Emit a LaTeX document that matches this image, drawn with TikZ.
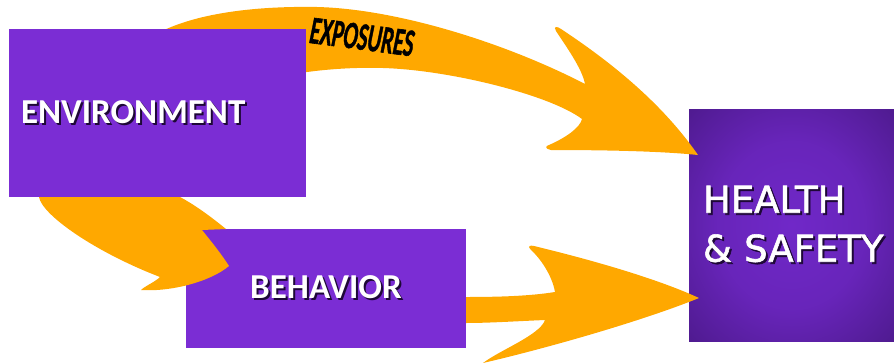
\documentclass[tikz,border=0pt]{standalone}
\usepackage{fontspec}
\usepackage{graphicx}
\usetikzlibrary{positioning}

\newfontfamily\carlito{Carlito}
\newfontfamily\heavycarlito{Carlito}[FakeBold=1.5]
\newfontfamily\dejavu{DejaVu Sans}[FakeBold=1.5]

\definecolor{boxpurple}{RGB}{123,45,212}
\definecolor{hsin}{RGB}{112,40,200}
\definecolor{hsout}{RGB}{58,18,108}
\definecolor{arrowgold}{RGB}{255,168,0}
\definecolor{txtshade}{RGB}{30,8,55}

\newcommand{\shtxt}[1]{\leavevmode\rlap{\hspace{2pt}\raisebox{-2pt}{\textcolor{txtshade}{#1}}}#1}
\pgfdeclareradialshading{hsglow}{\pgfpoint{0bp}{0bp}}{color(0bp)=(hsin); color(18bp)=(hsin!85!hsout); color(50bp)=(hsout)}

\begin{document}
\begin{tikzpicture}[x=1pt,y=-1pt,every node/.style={shape=rectangle,inner sep=0pt,outer sep=0pt},
    box/.style={fill=boxpurple,text=white},
    flow/.style={fill=arrowgold}]
    \useasboundingbox (0,0) rectangle (894,362);

	% create boxes
    \node (hs) [box, shade, shading=hsglow, anchor=north west, minimum width=205pt, minimum height=232pt, text width=177pt, align=left, font=\dejavu\fontsize{37}{49}\selectfont] at (689,109) {\shtxt{HEALTH}\\\shtxt{\&~SAFETY}};
	\node (beh) [box, below=120pt of hs.north west, xshift=-503pt, anchor=north west, minimum width=280pt, minimum height=119pt, font=\carlito\fontsize{35}{40}\selectfont\bfseries] {\shtxt{BEHAVIOR}};

	% arrows between the boxes
    \fill[flow] (200,70) -- (160,32)
        .. controls (200,12) and (260,6) .. (317,7)
        .. controls (400,9) and (510,45) .. (585,84)
        .. controls (582,68) and (565,45) .. (556,31)
        .. controls (553,26) and (557,26) .. (561,29)
        .. controls (605,58) and (660,100) .. (698,155)
        .. controls (660,151) and (600,150) .. (551,150)
        .. controls (545,149) and (545,146) .. (549,145)
        .. controls (565,138) and (580,128) .. (582,119)
        .. controls (550,95) and (450,70) .. (383,68)
        .. controls (350,67) and (320,70) .. (300,73) -- cycle;
    \fill[flow] (39,190) -- (39,197)
        .. controls (42,215) and (95,252) .. (160,277)
        .. controls (155,282) and (145,286) .. (141,290)
        .. controls (170,292) and (210,282) .. (229,266)
        .. controls (220,252) and (210,240) .. (202,230)
        -- (226,229)
        .. controls (210,216) and (195,205) .. (180,197)
        -- (180,190) -- cycle;
    \fill[flow] (466,297)
        .. controls (500,297) and (530,296) .. (555,292)
        .. controls (552,275) and (540,258) .. (531,250)
        .. controls (527,246) and (530,245) .. (534,246)
        .. controls (600,262) and (660,280) .. (699,298)
        .. controls (650,318) and (560,345) .. (483,363)
        .. controls (500,350) and (540,335) .. (545,320)
        .. controls (520,321) and (490,323) .. (466,323) -- cycle;
    \node (exp) [rotate=-7.5, font=\heavycarlito\fontsize{39}{40}\selectfont\bfseries\itshape] at (362,37) {\scalebox{0.55}[1]{EXPOSURES}};

	% environment box on top of the arrow tails
	\node (env) [box, above=32pt of beh.north west, xshift=-177pt, anchor=south west, minimum width=297pt, minimum height=168pt, text width=273pt, align=left, font=\carlito\fontsize{35}{40}\selectfont\bfseries] {\shtxt{ENVIRONMENT}};

\end{tikzpicture}
\end{document}
